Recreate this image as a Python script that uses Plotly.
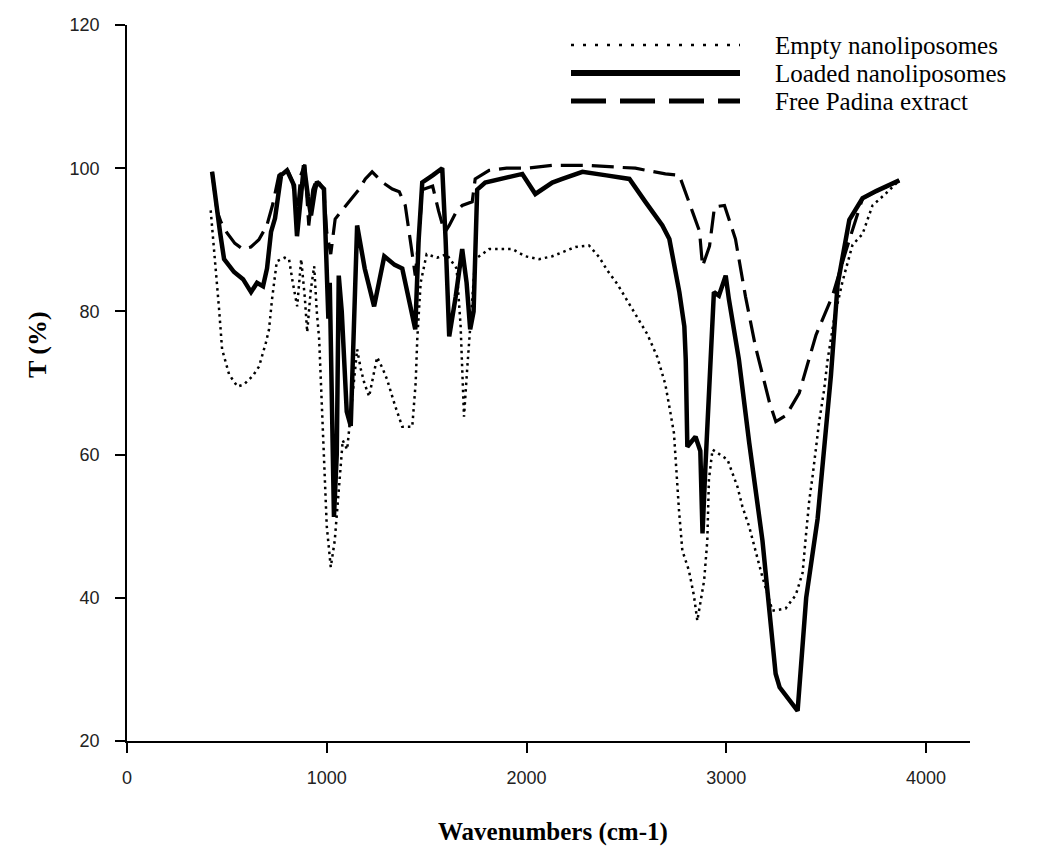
import plotly.graph_objects as go

# ---------------- data ----------------
series_names = ["Empty nanoliposomes", "Loaded nanoliposomes", "Free Padina extract"]

empty_x = [419, 436, 444, 461, 476, 511, 553, 586, 630, 661, 695, 711, 726, 750, 790, 811, 830,
           852, 872, 890, 902, 920, 937, 950, 962, 985, 1000, 1020, 1040, 1060, 1080, 1102, 1125,
           1152, 1170, 1187, 1212, 1252, 1280, 1302, 1340, 1378, 1428, 1445, 1453, 1470, 1500,
           1553, 1600, 1650, 1670, 1687, 1703, 1718, 1743, 1813, 1929, 1994, 2063, 2129, 2245,
           2313, 2363, 2405, 2455, 2530, 2605, 2655, 2695, 2720, 2738, 2763, 2780, 2813, 2838,
           2855, 2875, 2889, 2905, 2913, 2931, 3006, 3056, 3081, 3115, 3180, 3231, 3297, 3348,
           3382, 3398, 3415, 3432, 3448, 3465, 3490, 3507, 3540, 3582, 3632, 3682, 3732, 3800, 3866]
empty_t = [94.1, 88.7, 85, 80.3, 74.7, 71.2, 69.5, 69.8, 71, 72.3, 75.6, 77.5, 81.7, 87, 87.5, 87.3, 84,
           80.7, 87.3, 82, 77.1, 83, 86.3, 80, 76.1, 60, 50, 44.3, 48, 55, 62, 60.7, 67,
           74.7, 72, 70.1, 68.1, 73.6, 72, 70.5, 67, 63.9, 63.9, 70, 76.1, 84, 88,
           87.5, 88, 86, 78, 65.3, 72, 77.9, 87.3, 88.7, 88.7, 87.7, 87.3, 87.7, 89,
           89.2, 87.6, 85.7, 83.8, 80.3, 76.8, 73.6, 69.8, 65.9, 63, 52.3, 46.6, 43.8, 40.3,
           36.8, 40, 42.4, 48, 56.5, 60.7, 59.3, 55.5, 52.7, 49.9, 43, 38.2, 38.5, 40.4,
           43.5, 48.5, 53.5, 57, 61.1, 64.6, 69.1, 73.2, 79, 84.2, 89.3, 90.8, 94.8, 96.5, 98.3]

loaded_x = [426, 451, 466, 486, 536, 581, 621, 651, 681, 701, 721, 741, 756, 771, 801, 836, 851,
            871, 886, 906, 921, 941, 951, 986, 996, 1002, 1008, 1015, 1036, 1050, 1060, 1075, 1090,
            1100, 1120, 1140, 1152, 1190, 1237, 1288, 1340, 1378, 1410, 1443, 1460, 1478, 1530,
            1578, 1595, 1613, 1645, 1678, 1700, 1718, 1735, 1753, 1793, 1900, 1979, 2044, 2129,
            2179, 2280, 2400, 2515, 2595, 2680, 2715, 2765, 2790, 2797, 2805, 2846, 2870, 2881,
            2895, 2913, 2930, 2938, 2963, 2997, 3013, 3063, 3115, 3181, 3247, 3267, 3357, 3400,
            3457, 3524, 3557, 3616, 3682, 3750, 3866]
loaded_t = [99.5, 93.5, 91, 87.3, 85.5, 84.5, 82.7, 84, 83.5, 86, 91.1, 93, 96, 99, 99.7, 97.6, 90.5,
            97, 100.4, 96, 93.4, 97, 98.1, 97.1, 89.7, 86, 79, 84, 51.3, 60, 85, 80, 72,
            66, 64, 80, 92, 86, 80.7, 87.7, 86.5, 86, 82, 77.5, 90, 98, 99,
            100, 90, 76.5, 82, 88.7, 84, 77.5, 80, 97, 98, 98.7, 99.2, 96.4, 98,
            98.5, 99.5, 99, 98.5, 95.3, 92, 90.1, 82.7, 77.9, 73.3, 61.1, 62.5, 60.5, 49,
            58, 69.5, 78, 82.7, 82.2, 85, 81.7, 73.3, 61.6, 48, 29.4, 27.5, 24.2, 40,
            51, 71.1, 83.7, 92.8, 95.8, 96.8, 98.3]

free_x = [426, 451, 470, 500, 540, 580, 620, 660, 700, 730, 760, 800, 830, 850, 870, 890, 910,
          930, 950, 985, 1000, 1020, 1042, 1100, 1160, 1193, 1227, 1280, 1328, 1363, 1393, 1428,
          1443, 1460, 1478, 1530, 1560, 1590, 1613, 1650, 1678, 1728, 1743, 1813, 1900, 2000,
          2129, 2295, 2415, 2545, 2695, 2765, 2831, 2866, 2881, 2916, 2941, 2991, 3046, 3096,
          3146, 3216, 3248, 3300, 3365, 3449, 3532, 3597, 3682, 3866]
free_t = [99.5, 94, 92.5, 91, 89.5, 88.7, 89, 90, 92, 95, 99, 100, 98, 93, 99, 100.5, 92,
          97, 98.5, 97, 91, 88, 92.9, 95, 97, 98.5, 99.5, 98, 97.1, 96.7, 94.8, 88,
          85, 90, 97, 97.5, 94, 91, 92, 94, 94.8, 95.3, 98.5, 99.7, 100, 100,
          100.4, 100.4, 100.2, 100, 99.2, 99, 93.9, 91.2, 86.3, 89.1, 94.6, 94.8, 90.1, 82.1,
          75.1, 67.3, 64.6, 65.5, 68.6, 76.7, 82.2, 88.3, 95.8, 98.3]

x_ticks = [0, 1000, 2000, 3000, 4000]
y_ticks = [20, 40, 60, 80, 100, 120]

# ---------------- styling ----------------
# the page body has an 8px default margin, so the figure starts at (8, 8)
OFF = 8
W, H = 1037 - OFF, 855 - OFF
PLOT_L, PLOT_R, PLOT_T, PLOT_B = 127, 970, 25, 741   # page pixels of the plot area
ML, MT = PLOT_L - OFF, PLOT_T - OFF
MR, MB = W - (PLOT_R - OFF), H - (PLOT_B - OFF)
PW, PH = PLOT_R - PLOT_L, PLOT_B - PLOT_T

styles = [
    dict(color="black", width=2.5, dash="2.5px,4px"),
    dict(color="black", width=4.5, dash="solid"),
    dict(color="black", width=3.2, dash="22px,9px"),
]
legend_styles = [
    dict(color="black", width=2.6, dash="3px,9px"),
    dict(color="black", width=6, dash="solid"),
    dict(color="black", width=5, dash="35px,14px"),
]

fig = go.Figure()
for name, xs, ys, st in zip(series_names, [empty_x, loaded_x, free_x],
                            [empty_t, loaded_t, free_t], styles):
    fig.add_trace(go.Scatter(x=xs, y=ys, mode="lines", name=name, line=st,
                             showlegend=False))


def px_to_paper(px, py):
    """page pixel -> paper coordinates of the plot area"""
    return (px - PLOT_L) / PW, (PLOT_B - py) / PH


serif = "Liberation Serif, Times New Roman, serif"

# custom legend (long line samples, like the reference)
legend_rows_py = [45, 73, 101]
for name, st, py in zip(series_names, legend_styles, legend_rows_py):
    x0, y0 = px_to_paper(571, py)
    x1, _ = px_to_paper(740, py)
    fig.add_shape(type="line", xref="paper", yref="paper", x0=x0, x1=x1, y0=y0, y1=y0,
                  line=st)
    tx, ty = px_to_paper(773, py)
    fig.add_annotation(xref="paper", yref="paper", x=tx, y=ty, text=name, showarrow=False,
                       xanchor="left", yanchor="middle",
                       font=dict(family=serif, size=25, color="black"))

# axis titles
tx, ty = px_to_paper(553, 832)
fig.add_annotation(xref="paper", yref="paper", x=tx, y=ty, text="<b>Wavenumbers (cm-1)</b>",
                   showarrow=False, xanchor="center", yanchor="middle",
                   font=dict(family=serif, size=25, color="black"))
tx, ty = px_to_paper(37, 345)
fig.add_annotation(xref="paper", yref="paper", x=tx, y=ty, text="<b>T (%)</b>",
                   showarrow=False, xanchor="center", yanchor="middle", textangle=-90,
                   font=dict(family=serif, size=26, color="black"))

tick_font = dict(family="Liberation Sans, Arial, sans-serif", size=18, color="#222")
fig.update_xaxes(range=[0, 4220], tickvals=x_ticks, ticktext=[str(v) for v in x_ticks],
                 showgrid=False, zeroline=False, showline=True, linecolor="black", linewidth=1.5,
                 ticks="outside", ticklen=10, tickwidth=1.5, tickcolor="black",
                 ticklabelstandoff=10, tickfont=tick_font)
fig.update_yaxes(range=[20, 120], tickvals=y_ticks, ticktext=[str(v) for v in y_ticks],
                 showgrid=False, zeroline=False, showline=True, linecolor="black", linewidth=1.5,
                 ticks="outside", ticklen=10, tickwidth=1.5, tickcolor="black",
                 ticklabelstandoff=12, tickfont=tick_font)

fig.update_layout(width=W, height=H, margin=dict(l=ML, r=MR, t=MT, b=MB, autoexpand=False),
                  plot_bgcolor="white", paper_bgcolor="white", showlegend=False)

fig.write_html("out.html")
